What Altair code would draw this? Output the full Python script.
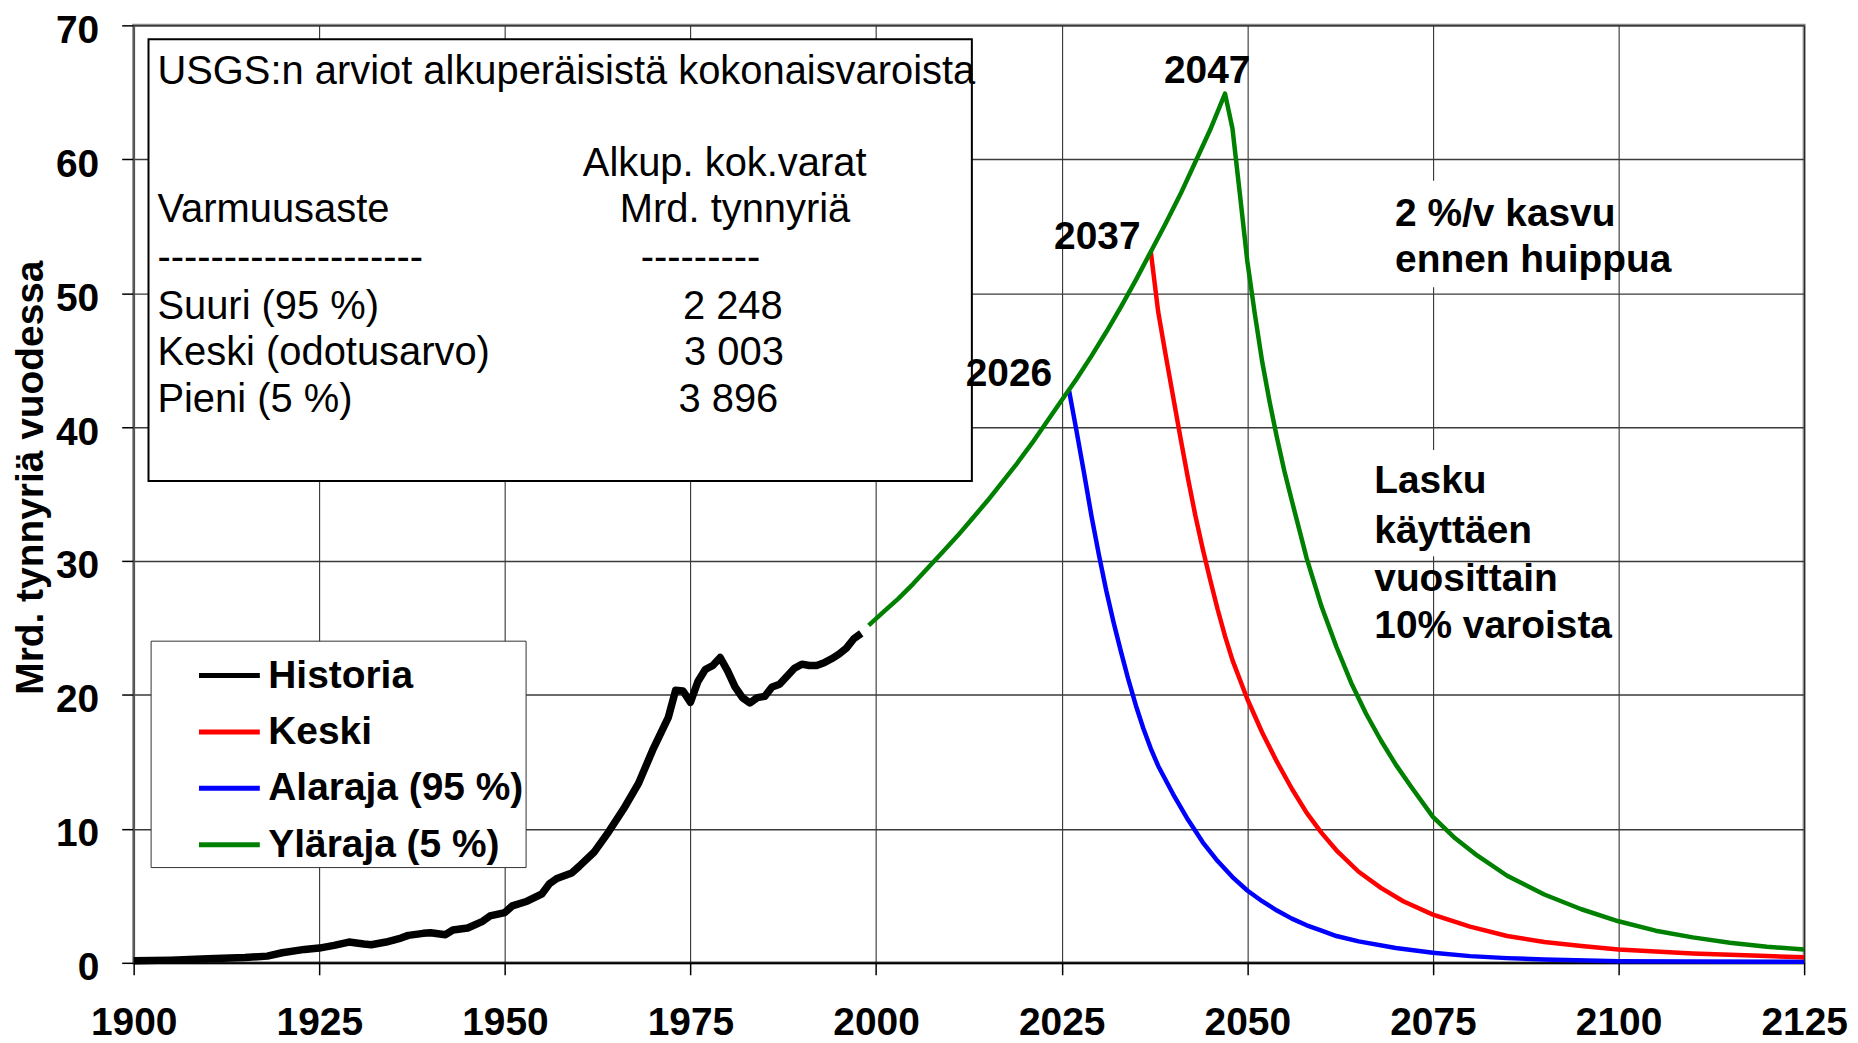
import altair as alt
import pandas as pd

FONT = "Liberation Sans"

# ---------------- data ----------------
series_names = ["Historia", "Keski", "Alaraja (95 %)", "Yläraja (5 %)"]
series_colors = ["#000000", "#ff0000", "#0000ff", "#008000"]

hist_years = [1900, 1905, 1910, 1915, 1918, 1920, 1923, 1925, 1927, 1929,
              1931, 1932, 1934, 1936, 1937, 1939, 1940, 1942, 1943, 1945,
              1947, 1948, 1950, 1951, 1953, 1955, 1956, 1957, 1959, 1960,
              1962, 1964, 1966, 1968, 1970, 1972, 1973, 1974, 1975, 1976,
              1977, 1978, 1979, 1980, 1981, 1982, 1983, 1984, 1985, 1986,
              1987, 1988, 1989, 1990, 1991, 1992, 1993, 1994, 1995, 1996,
              1997, 1998]
hist_vals = [0.15, 0.2, 0.3, 0.4, 0.5, 0.75, 1.0, 1.1, 1.3, 1.55,
             1.4, 1.35, 1.55, 1.85, 2.05, 2.2, 2.25, 2.1, 2.45, 2.6,
             3.1, 3.5, 3.75, 4.25, 4.6, 5.15, 5.9, 6.3, 6.7, 7.2,
             8.25, 9.8, 11.5, 13.4, 16.0, 18.3, 20.35, 20.3, 19.45, 21.0,
             21.9, 22.2, 22.8, 21.8, 20.6, 19.8, 19.4, 19.8, 19.9, 20.6,
             20.8, 21.4, 22.0, 22.3, 22.2, 22.2, 22.4, 22.7, 23.05, 23.5,
             24.2, 24.6]

yla_years = [1999, 2001, 2003, 2005, 2007, 2009, 2011, 2013, 2015, 2017,
             2019, 2021, 2023, 2025, 2027, 2029, 2031, 2033, 2035, 2037,
             2039, 2041, 2043, 2045, 2047, 2048, 2049, 2050, 2051, 2052,
             2053, 2054, 2055, 2056, 2058, 2060, 2062, 2064, 2066, 2068,
             2070, 2072, 2075, 2078, 2081, 2085, 2090, 2095, 2100, 2105,
             2110, 2115, 2120, 2125]
yla_vals = [25.2, 26.2, 27.2, 28.3, 29.5, 30.7, 31.9, 33.2, 34.5, 35.9,
            37.3, 38.8, 40.4, 42.0, 43.6, 45.3, 47.1, 49.0, 51.0, 53.1,
            55.2, 57.4, 59.8, 62.2, 64.9, 62.3, 57.4, 52.4, 48.5, 44.9,
            41.9, 39.2, 36.7, 34.5, 30.2, 26.6, 23.6, 20.9, 18.6, 16.6,
            14.8, 13.2, 10.9, 9.3, 8.0, 6.5, 5.1, 4.0, 3.1, 2.4,
            1.9, 1.5, 1.2, 1.0]

kes_years = [2037, 2038, 2039, 2040, 2041, 2042, 2043, 2044, 2045, 2046,
             2047, 2048, 2050, 2052, 2054, 2056, 2058, 2060, 2062, 2065,
             2068, 2071, 2075, 2080, 2085, 2090, 2095, 2100, 2105, 2110,
             2115, 2120, 2125]
kes_vals = [53.1, 48.6, 45.4, 42.3, 39.2, 36.2, 33.4, 30.9, 28.6, 26.4,
            24.4, 22.6, 19.7, 17.2, 15.0, 13.0, 11.2, 9.7, 8.4, 6.8,
            5.6, 4.6, 3.6, 2.7, 2.0, 1.55, 1.25, 1.0, 0.85, 0.7,
            0.6, 0.5, 0.42]

ala_years = [2026, 2027, 2028, 2029, 2030, 2031, 2032, 2033, 2034, 2035,
             2036, 2037, 2038, 2040, 2042, 2044, 2046, 2048, 2050, 2052,
             2054, 2056, 2058, 2060, 2062, 2065, 2070, 2075, 2080, 2085,
             2090, 2100, 2110, 2125]
ala_vals = [42.7, 39.7, 36.6, 33.4, 30.5, 27.8, 25.4, 23.2, 21.1, 19.2,
            17.5, 16.0, 14.7, 12.6, 10.7, 9.0, 7.6, 6.4, 5.4, 4.6,
            3.9, 3.3, 2.8, 2.4, 2.0, 1.6, 1.1, 0.75, 0.5, 0.35,
            0.25, 0.12, 0.1, 0.08]

x_ticks = [1900, 1925, 1950, 1975, 2000, 2025, 2050, 2075, 2100, 2125]
y_ticks = [0, 10, 20, 30, 40, 50, 60, 70]

# table box (USGS) and its text
box_x = [1902.0]
box_x2 = [2012.9]
box_y = [68.96]
box_y2 = [35.97]

left_texts = ["USGS:n arviot alkuperäisistä kokonaisvaroista", "Varmuusaste",
              "--------------------", "Suuri (95 %)", "Keski (odotusarvo)",
              "Pieni (5 %)", "---------"]
left_x = [1903.2, 1903.2, 1903.2, 1903.2, 1903.2, 1903.2, 1968.3]
left_y = [65.61, 55.28, 51.76, 48.11, 44.61, 41.13, 51.76]

center_texts = ["Alkup. kok.varat", "Mrd. tynnyriä", "2 248", "3 003", "3 896"]
center_x = [1979.6, 1981.0, 1980.7, 1980.85, 1980.1]
center_y = [58.76, 55.28, 48.11, 44.61, 41.13]

# bold annotations
peak_texts = ["2047", "2037", "2026"]
peak_x = [2044.6, 2029.8, 2017.9]
peak_y = [65.70, 53.30, 43.04]

note_texts = ["2 %/v kasvu", "ennen huippua", "Lasku", "käyttäen",
              "vuosittain", "10% varoista"]
note_x = [2069.9, 2069.9, 2067.1, 2067.1, 2067.1, 2067.1]
note_y = [55.03, 51.56, 35.08, 31.35, 27.73, 24.24]

# white backgrounds behind the note texts
bg_x = [2069.0, 2066.0]
bg_x2 = [2085.0, 2085.0]
bg_y = [58.4, 38.3]
bg_y2 = [50.45, 30.35]

# ---------------- frames ----------------
def series_frame(name, years, vals, width):
    return pd.DataFrame({"vuosi": years, "arvo": vals, "sarja": name, "leveys": width})

hist_df = series_frame("Historia", hist_years, hist_vals, 7.5)
kes_df = series_frame("Keski", kes_years, kes_vals, 4.5)
ala_df = series_frame("Alaraja (95 %)", ala_years, ala_vals, 4.5)
yla_df = series_frame("Yläraja (5 %)", yla_years, yla_vals, 4.5)

box_df = pd.DataFrame({"vuosi": box_x, "vuosi2": box_x2, "arvo": box_y, "arvo2": box_y2})
bg_df = pd.DataFrame({"vuosi": bg_x, "vuosi2": bg_x2, "arvo": bg_y, "arvo2": bg_y2})
left_df = pd.DataFrame({"vuosi": left_x, "arvo": left_y, "teksti": left_texts})
center_df = pd.DataFrame({"vuosi": center_x, "arvo": center_y, "teksti": center_texts})
peak_df = pd.DataFrame({"vuosi": peak_x, "arvo": peak_y, "teksti": peak_texts})
note_df = pd.DataFrame({"vuosi": note_x, "arvo": note_y, "teksti": note_texts})

# ---------------- encodings ----------------
xs = alt.Scale(domain=[1900, 2125], nice=False, zero=False)
ys = alt.Scale(domain=[0, 70], nice=False, zero=True)

x_axis = alt.Axis(values=x_ticks, format="d", title=None, grid=True,
                  gridColor="#1e1e1e", gridWidth=1,
                  tickSize=12, tickColor="#000000", tickWidth=1.5,
                  domainColor="#000000", domainWidth=2,
                  labelFont=FONT, labelFontSize=39, labelFontWeight="bold",
                  labelColor="#000000", labelPadding=29,
                  labelFlush=False, labelOverlap=False)
y_axis = alt.Axis(values=y_ticks, title="Mrd. tynnyriä vuodessa", grid=True,
                  gridColor="#3a3a3a", gridWidth=1.5,
                  tickSize=12, tickColor="#000000", tickWidth=1.5,
                  domainColor="#555555", domainWidth=1.5,
                  labelFont=FONT, labelFontSize=39, labelFontWeight="bold",
                  labelColor="#000000", labelPadding=23, labelOffset=5,
                  labelFlush=False, labelOverlap=False,
                  titleFont=FONT, titleFontSize=39, titleFontWeight="bold",
                  titleColor="#000000", titleAngle=270, titleBaseline="middle",
                  titleX=-103, titleY=453)

X = alt.X("vuosi:Q", scale=xs, axis=x_axis)
Y = alt.Y("arvo:Q", scale=ys, axis=y_axis)

COLOR = alt.Color(
    "sarja:N",
    scale=alt.Scale(domain=series_names, range=series_colors),
    legend=alt.Legend(title=None, orient="none", legendX=17, legendY=617,
                      fillColor="white", strokeColor="#333333", padding=2,
                      symbolType="stroke", symbolSize=3721, symbolStrokeWidth=5,
                      symbolOffset=44, labelOffset=6, rowPadding=3.5,
                      labelFont=FONT, labelFontSize=39, labelFontWeight="bold",
                      labelColor="#000000", labelLimit=600),
)
SW = alt.StrokeWidth("leveys:Q", scale=None, legend=None)

# ---------------- layers ----------------
box = alt.Chart(box_df).mark_rect(fill="white", stroke="black", strokeWidth=2).encode(
    x=X, x2="vuosi2:Q", y=Y, y2="arvo2:Q")
bgs = alt.Chart(bg_df).mark_rect(fill="white", strokeWidth=0).encode(
    x=X, x2="vuosi2:Q", y=Y, y2="arvo2:Q")

left_txt = alt.Chart(left_df).mark_text(align="left", baseline="alphabetic", font=FONT,
                                        fontSize=40, color="black").encode(
    x=X, y=Y, text="teksti:N")
center_txt = alt.Chart(center_df).mark_text(align="center", baseline="alphabetic", font=FONT,
                                            fontSize=40, color="black").encode(
    x=X, y=Y, text="teksti:N")

def line_layer(df):
    return alt.Chart(df).mark_line(strokeCap="butt", strokeJoin="round").encode(
        x=X, y=Y, color=COLOR, strokeWidth=SW, order="vuosi:Q")

peak_txt = alt.Chart(peak_df).mark_text(align="center", baseline="alphabetic", font=FONT,
                                        fontSize=39, fontWeight="bold", color="black").encode(
    x=X, y=Y, text="teksti:N")
note_txt = alt.Chart(note_df).mark_text(align="left", baseline="alphabetic", font=FONT,
                                        fontSize=39, fontWeight="bold", color="black").encode(
    x=X, y=Y, text="teksti:N")

chart = alt.layer(
    box, bgs, left_txt, center_txt,
    line_layer(hist_df), line_layer(ala_df), line_layer(kes_df), line_layer(yla_df),
    peak_txt, note_txt,
).properties(
    width=1675, height=940,
    padding={"left": 126, "top": 16, "right": 46, "bottom": 78},
    autosize=alt.AutoSizeParams(type="none"),
    background="white",
).configure_view(stroke="#8a8a8a", strokeWidth=3)

chart.save("out.html", embed_options={"renderer": "svg", "actions": False})
